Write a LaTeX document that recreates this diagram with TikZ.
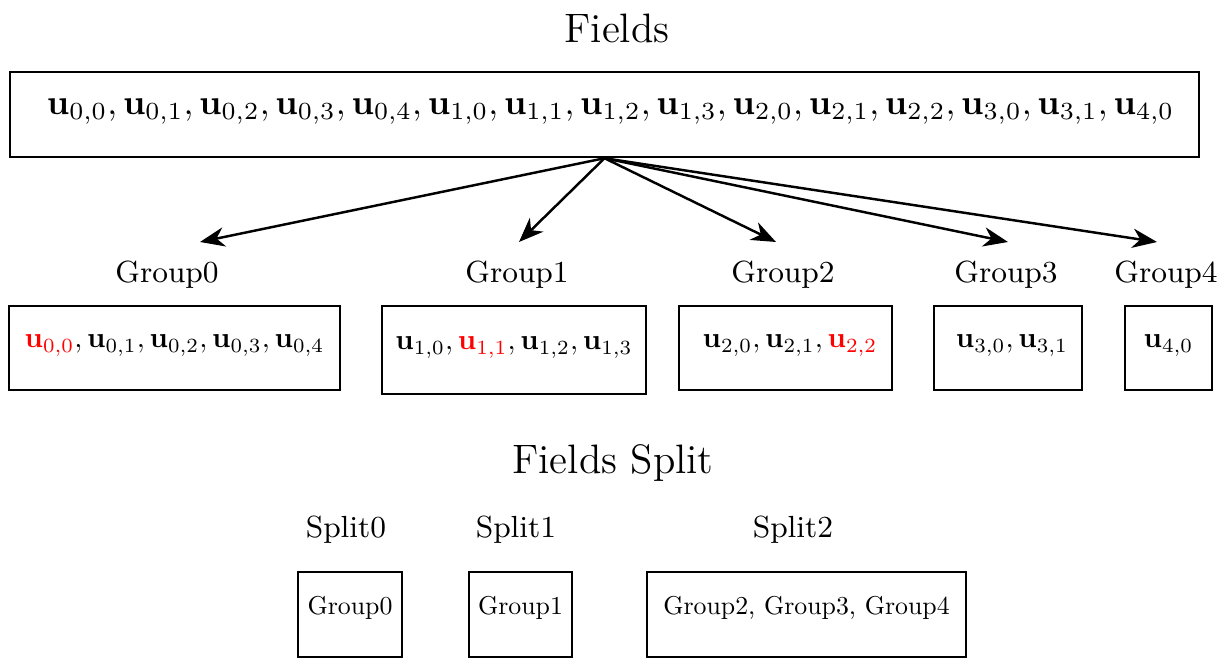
\documentclass[tikz,border=0pt]{standalone}
\usepackage{fix-cm}
\usepackage{amsmath}
\usepackage{amssymb}
\usepackage{tikz}
\usetikzlibrary{arrows.meta}

\newcommand{\vu}{\mathbf{u}}
\newcommand{\grouptext}[1]{\scalebox{0.82}{#1}}
\newcommand{\splittext}[1]{\scalebox{0.735}{#1}}

\tikzset{
  fieldbox/.style={draw, line width=0.7pt, inner sep=0pt, text height=1.2ex, text depth=1.2ex},
  heading/.style={font=\fontsize{11.7}{14}\selectfont},
  grouplabel/.style={font=\fontsize{8.7}{10}\selectfont},
  groupbox/.style={fieldbox, minimum height=0.84cm},
  splitbox/.style={fieldbox, minimum height=0.85cm},
}

\begin{document}
\begin{tikzpicture}[>={Stealth[length=7pt,width=5.5pt,inset=2.2pt]}]
\useasboundingbox (0,0) rectangle (12.29,-6.59);

% all fields
\node[heading] (fieldstitle) at (6.17,-0.28) {Fields};
\node[fieldbox, minimum width=11.89cm, minimum height=0.85cm] (fields) at (6.045,-1.145)
  {\hspace{0.12cm}$\vu_{0,0}, \vu_{0,1}, \vu_{0,2}, \vu_{0,3}, \vu_{0,4}, \vu_{1,0}, \vu_{1,1}, \vu_{1,2}, \vu_{1,3}, \vu_{2,0}, \vu_{2,1}, \vu_{2,2}, \vu_{3,0}, \vu_{3,1}, \vu_{4,0}$};

% arrows down to the groups
\coordinate (t0) at (2.00,-2.42);
\coordinate (t1) at (5.19,-2.42);
\coordinate (t2) at (7.76,-2.42);
\coordinate (t3) at (10.08,-2.42);
\coordinate (t4) at (11.57,-2.42);
\foreach \t in {t0,t1,t2,t3,t4}
  \draw[->, line width=0.7pt] (fields.south) -- (\t);

% groups
\node[grouplabel] (lab0) at (1.67,-2.75) {Group0};
\node[grouplabel] (lab1) at (5.17,-2.75) {Group1};
\node[grouplabel] (lab2) at (7.83,-2.75) {Group2};
\node[grouplabel] (lab3) at (10.06,-2.75) {Group3};
\node[grouplabel] (lab4) at (11.66,-2.75) {Group4};

\node[groupbox, minimum width=3.31cm] (group0) at (1.745,-3.48)
  {\grouptext{$\textcolor{red}{\vu_{0,0}}, \vu_{0,1}, \vu_{0,2}, \vu_{0,3}, \vu_{0,4}$}};
\node[groupbox, minimum width=2.64cm, minimum height=0.88cm] (group1) at (5.14,-3.50)
  {\grouptext{$\vu_{1,0}, \textcolor{red}{\vu_{1,1}}, \vu_{1,2}, \vu_{1,3}$}};
\node[groupbox, minimum width=2.13cm] (group2) at (7.855,-3.48)
  {\hspace{0.09cm}\grouptext{$\vu_{2,0}, \vu_{2,1}, \textcolor{red}{\vu_{2,2}}$}};
\node[groupbox, minimum width=1.48cm] (group3) at (10.08,-3.48)
  {\hspace{0.08cm}\grouptext{$\vu_{3,0}, \vu_{3,1}$}};
\node[groupbox, minimum width=0.87cm] (group4) at (11.685,-3.48)
  {\grouptext{$\vu_{4,0}$}};

% splits
\node[heading] (splittitle) at (6.13,-4.63) {Fields Split};

\node[grouplabel] (slab0) at (3.46,-5.30) {Split0};
\node[grouplabel] (slab1) at (5.16,-5.30) {Split1};
\node[grouplabel] (slab2) at (7.93,-5.30) {Split2};

\node[splitbox, minimum width=1.04cm] (split0) at (3.50,-6.145) {\splittext{Group0}};
\node[splitbox, minimum width=1.03cm] (split1) at (5.205,-6.145) {\splittext{Group1}};
\node[splitbox, minimum width=3.19cm] (split2) at (8.065,-6.145) {\splittext{Group2, Group3, Group4}};
\end{tikzpicture}
\end{document}
